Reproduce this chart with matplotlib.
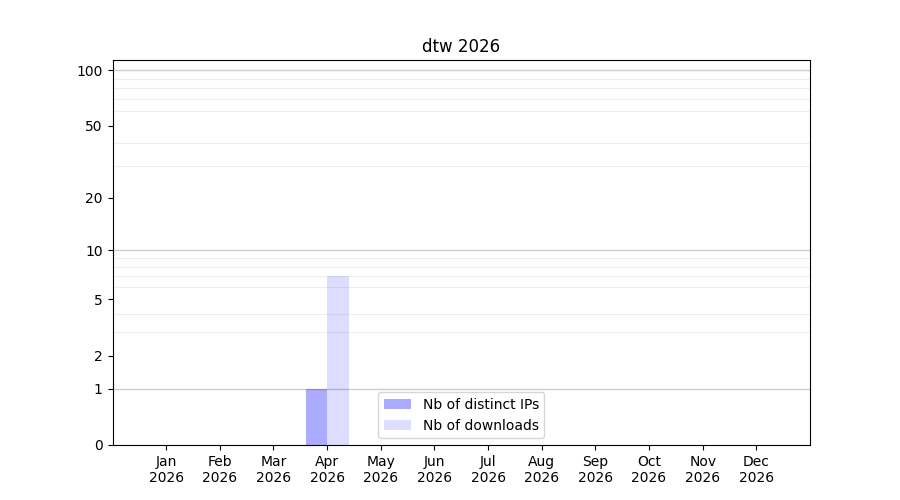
import numpy as np
import matplotlib
matplotlib.use("Agg")
import matplotlib.pyplot as plt

# Données mensuelles
mois = ["Jan\n2026", "Feb\n2026", "Mar\n2026", "Apr\n2026", "May\n2026", "Jun\n2026",
        "Jul\n2026", "Aug\n2026", "Sep\n2026", "Oct\n2026", "Nov\n2026", "Dec\n2026"]
ips_distinctes = [0, 0, 0, 1, 0, 0, 0, 0, 0, 0, 0, 0]
telechargements = [0, 0, 0, 7, 0, 0, 0, 0, 0, 0, 0, 0]

y_ticks = [0, 1, 2, 5, 10, 20, 50, 100]


def fwd(y):
    return np.log10(np.asarray(y) + 1.0)


def inv(y):
    return 10.0 ** np.asarray(y) - 1.0


x = np.arange(len(mois))
largeur = 0.4

fig, ax = plt.subplots(figsize=(9, 5), dpi=100)
ax.set_yscale("function", functions=(fwd, inv))

# Lignes de grille
mineurs = [v * d for d in (1, 10) for v in range(2, 10)]
ax.set_yticks(mineurs, minor=True)
ax.tick_params(axis="y", which="minor", length=0)
ax.grid(True, axis="y", which="minor", color="#eeeeee", linewidth=0.8)
for v in (1, 10, 100):
    ax.axhline(v, color="#cccccc", linewidth=1, zorder=0.5)

ax.bar(x - largeur / 2, ips_distinctes, width=largeur, color="blue", alpha=0.33,
       label="Nb of distinct IPs", zorder=2)
ax.bar(x + largeur / 2, telechargements, width=largeur, color="blue", alpha=0.135,
       label="Nb of downloads", zorder=2)

ax.set_yticks(y_ticks)
ax.set_yticklabels([str(v) for v in y_ticks])
ax.set_ylim(0, 113.5)
ax.set_xticks(x)
ax.set_xticklabels(mois)
ax.set_xlim(-1, 12)
ax.set_axisbelow(True)

ax.set_title("dtw 2026")
ax.legend(loc="lower center")

plt.savefig("out.png")
